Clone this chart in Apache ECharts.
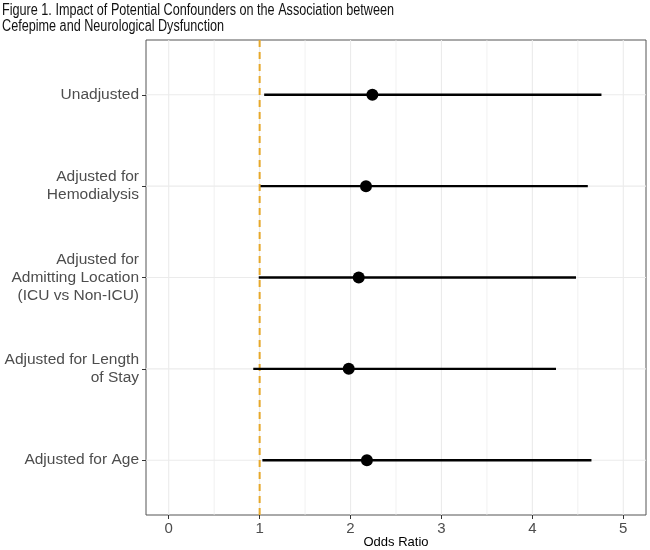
<!DOCTYPE html>
<html>
<head>
<meta charset="utf-8">
<script src="https://cdn.jsdelivr.net/npm/echarts@6/dist/echarts.min.js"></script>
<style>
  html, body { margin: 0; padding: 0; background: #fff; }
  #main { width: 650px; height: 550px; }
</style>
</head>
<body>
<div id="main"></div>
<script>
var title = 'Figure 1. Impact of Potential Confounders on the Association between\nCefepime and Neurological Dysfunction';
var labels = [
  'Unadjusted',
  'Adjusted for\nHemodialysis',
  'Adjusted for\nAdmitting Location\n(ICU vs Non-ICU)',
  'Adjusted for Length\nof Stay',
  'Adjusted for Age'
];
var oddsRatio = [2.24, 2.17, 2.09, 1.98, 2.18];
var lower = [1.05, 1.01, 0.99, 0.93, 1.03];
var upper = [4.76, 4.61, 4.48, 4.26, 4.65];
var xTicks = [0, 1, 2, 3, 4, 5];
var xMinor = [0.5, 1.5, 2.5, 3.5, 4.5];
var refLine = 1;

var font = 'Liberation Sans, Arial, sans-serif';
var chart = echarts.init(document.getElementById('main'));

var rows = labels.map(function (l, i) { return i + 1; });
var ciData = rows.map(function (r, i) { return [lower[i], upper[i], r]; });
var ptData = rows.map(function (r, i) { return [oddsRatio[i], r]; });

// grid lines: [kind, value, width]  kind 0 = vertical, 1 = horizontal
var gridData = [];
xTicks.forEach(function (v) { gridData.push([0, v, 1.1]); });
xMinor.forEach(function (v) { gridData.push([0, v, 0.7]); });
rows.forEach(function (v) { gridData.push([1, v, 1.1]); });

var option = {
  animation: false,
  backgroundColor: '#fff',
  graphic: [{
    type: 'text',
    left: 2,
    top: 3,
    scaleX: 0.79,
    originX: 0,
    style: {
      text: title,
      font: '16px "Liberation Sans", Arial, sans-serif',
      lineHeight: 16,
      fill: '#111'
    }
  }],
  grid: {
    left: 146, right: 4, top: 40, bottom: 35,
    outerBoundsMode: 'none',
    containLabel: false,
    show: true, borderColor: '#555', borderWidth: 1, backgroundColor: '#fff'
  },
  xAxis: {
    type: 'value',
    min: -0.25,
    max: 5.25,
    name: 'Odds Ratio',
    nameLocation: 'middle',
    nameGap: 21,
    nameMoveOverlap: false,
    nameTextStyle: { fontFamily: font, fontSize: 13, color: '#000' },
    axisLine: { show: false, onZero: false },
    axisTick: { show: true, customValues: xTicks, length: 4, lineStyle: { color: '#333' } },
    axisLabel: { customValues: xTicks, margin: 6, fontFamily: font, fontSize: 15, color: '#4d4d4d' },
    splitLine: { show: false }
  },
  yAxis: {
    type: 'value',
    inverse: true,
    min: 0.4,
    max: 5.6,
    axisLine: { show: false, onZero: false },
    axisTick: { show: true, customValues: rows, length: 4, lineStyle: { color: '#333' } },
    axisLabel: {
      customValues: rows,
      margin: 7,
      fontFamily: font,
      fontSize: 15.5,
      lineHeight: 18,
      color: '#4d4d4d',
      formatter: function (v) { return labels[Math.round(v) - 1]; }
    },
    splitLine: { show: false }
  },
  series: [
    {
      type: 'custom',
      silent: true,
      z: 1,
      data: gridData,
      renderItem: function (params, api) {
        var kind = api.value(0), v = api.value(1);
        var a, b;
        if (kind === 0) {
          a = api.coord([v, 0.4]); b = api.coord([v, 5.6]);
        } else {
          a = api.coord([-0.25, v]); b = api.coord([5.25, v]);
        }
        return {
          type: 'line',
          shape: { x1: a[0], y1: a[1], x2: b[0], y2: b[1] },
          style: { stroke: '#ebebeb', lineWidth: api.value(2) }
        };
      }
    },
    {
      type: 'custom',
      silent: true,
      z: 2,
      data: [[refLine]],
      renderItem: function (params, api) {
        var a = api.coord([api.value(0), 0.4]);
        var b = api.coord([api.value(0), 5.6]);
        return {
          type: 'line',
          shape: { x1: a[0], y1: a[1], x2: b[0], y2: b[1] },
          style: { stroke: '#e6a82a', lineWidth: 2, lineDash: [7, 5] }
        };
      }
    },
    {
      type: 'custom',
      z: 3,
      data: ciData,
      renderItem: function (params, api) {
        var a = api.coord([api.value(0), api.value(2)]);
        var b = api.coord([api.value(1), api.value(2)]);
        return {
          type: 'line',
          shape: { x1: a[0], y1: a[1], x2: b[0], y2: b[1] },
          style: { stroke: '#000', lineWidth: 2.4 }
        };
      }
    },
    {
      type: 'scatter',
      z: 4,
      data: ptData,
      symbol: 'circle',
      symbolSize: 12,
      itemStyle: { color: '#000', opacity: 1 }
    }
  ]
};

chart.setOption(option);
</script>
</body>
</html>
